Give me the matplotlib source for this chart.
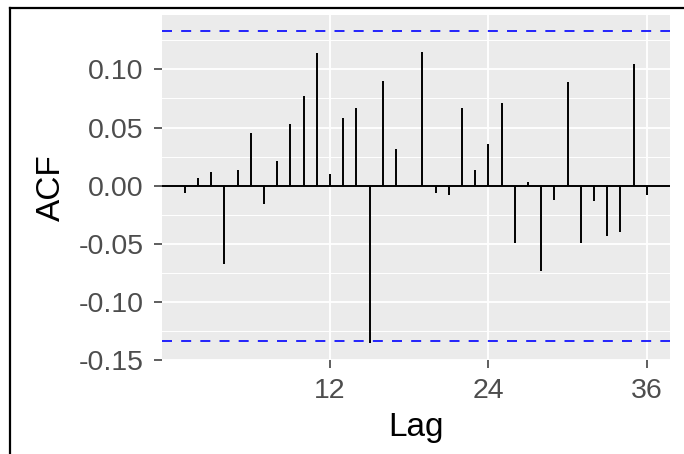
"""
ACF plot of the residual series, ggplot-grey look.
"""
import matplotlib
matplotlib.use("Agg")
import matplotlib.pyplot as plt
import numpy as np
from matplotlib.lines import Line2D

lags = np.arange(1, 37)
acf_vals = [
    -0.0063, 0.0063, 0.0118, -0.0678, 0.0138, 0.0454, -0.0161, 0.0210, 0.0529,
    0.0767, 0.1138, 0.0101, 0.0583, 0.0672, -0.1356, 0.0897, 0.0319, 0.0003,
    0.1152, -0.0063, -0.0083, 0.0672, 0.0135, 0.0356, 0.0710, -0.0491, 0.0029,
    -0.0730, -0.0121, 0.0894, -0.0491, -0.0135, -0.0437, -0.0399, 0.1043, -0.0083,
]
n_obs = 216
x_breaks = [12, 24, 36]
y_breaks = [-0.15, -0.10, -0.05, 0.00, 0.05, 0.10]
y_minor = [-0.125, -0.075, -0.025, 0.025, 0.075, 0.125]

ci = 1.96 / np.sqrt(n_obs)
acf_vals = np.array(acf_vals)

plt.rcParams["font.family"] = ["Liberation Sans", "DejaVu Sans"]

fig = plt.figure(figsize=(6.84, 4.54), dpi=100)
ax = fig.add_axes([0.2364, 0.207, 0.7431, 0.760])

ax.set_facecolor("#EBEBEB")
for s in ax.spines.values():
    s.set_visible(False)

# limits with 5% expansion like ggplot
lo = min(acf_vals.min(), -ci)
hi = max(acf_vals.max(), ci)
pad = 0.05 * (hi - lo)
ax.set_ylim(lo - pad, hi + pad)
xpad = 0.05 * (lags.max() - lags.min())
ax.set_xlim(lags.min() - xpad, lags.max() + xpad)

# grid
for y in y_minor:
    ax.axhline(y, color="white", linewidth=0.7, zorder=0.5)
for y in y_breaks:
    ax.axhline(y, color="white", linewidth=1.3, zorder=0.6)
for x in x_breaks:
    ax.axvline(x, color="white", linewidth=1.3, zorder=0.6)

ax.vlines(lags, 0, acf_vals, color="black", linewidth=1.4, zorder=2)
ax.axhline(0, color="black", linewidth=1.4, zorder=2)
for c in (ci, -ci):
    ax.axhline(c, color="#0000FF", linewidth=1.2, linestyle=(0, (6, 5.5)), zorder=3)

ax.set_xticks(x_breaks)
ax.set_xticklabels([str(x) for x in x_breaks])
ax.set_yticks(y_breaks)
ax.set_yticklabels([f"{y:.2f}" for y in y_breaks])
ax.tick_params(axis="both", colors="#333333", length=6, width=1.1,
               labelsize=20.5, labelcolor="#4D4D4D")
ax.tick_params(axis="y", pad=7)
ax.tick_params(axis="x", pad=7)

ax.set_xlabel("Lag", fontsize=24, color="black", labelpad=6)
ax.set_ylabel("ACF", fontsize=24, color="black", labelpad=8)

# outer frame
fx = 10 / 684
fy = 1 - 7.5 / 454
fig.add_artist(Line2D([fx, fx], [-0.1, fy], transform=fig.transFigure,
                      color="black", linewidth=1.6))
fig.add_artist(Line2D([fx, 1.1], [fy, fy], transform=fig.transFigure,
                      color="black", linewidth=1.6))

fig.savefig("out.png", dpi=100)
